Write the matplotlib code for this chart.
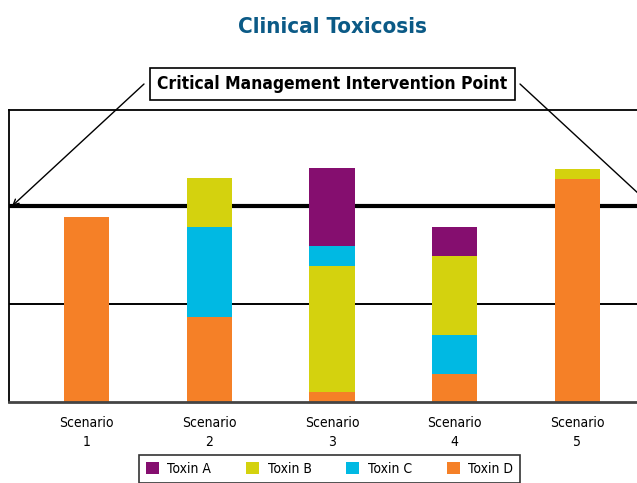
import matplotlib.pyplot as plt
from matplotlib.patches import Patch

# the reference uses a narrow face; ask for condensed DejaVu
plt.rcParams['font.family'] = ['DejaVu Sans']
plt.rcParams['font.stretch'] = 'condensed'

# data
scenarios = ['Scenario\n1', 'Scenario\n2', 'Scenario\n3', 'Scenario\n4', 'Scenario\n5']
toxins = ['Toxin A', 'Toxin B', 'Toxin C', 'Toxin D']
toxin_a = [0, 0, 0.80, 0.30, 0]
toxin_b = [0, 0.50, 1.29, 0.81, 0.10]
toxin_c = [0, 0.92, 0.20, 0.39, 0]
toxin_d = [1.89, 0.87, 0.10, 0.29, 2.28]
# bottom-to-top stacking order differs between scenarios
stack_order = [
    ['Toxin D', 'Toxin C', 'Toxin B', 'Toxin A'],
    ['Toxin D', 'Toxin C', 'Toxin B', 'Toxin A'],
    ['Toxin D', 'Toxin B', 'Toxin C', 'Toxin A'],
    ['Toxin D', 'Toxin C', 'Toxin B', 'Toxin A'],
    ['Toxin D', 'Toxin C', 'Toxin B', 'Toxin A'],
]
intervention_level = 2

values = {'Toxin A': toxin_a, 'Toxin B': toxin_b, 'Toxin C': toxin_c, 'Toxin D': toxin_d}
colors = {'Toxin A': '#850E6F', 'Toxin B': '#D4D20E', 'Toxin C': '#00B9E3', 'Toxin D': '#F58027'}

W, H = 637, 483
fig = plt.figure(figsize=(W / 100, H / 100), dpi=100)
ax = fig.add_axes([9 / W, (H - 402) / H, (655 - 9) / W, (402 - 110) / H])

# reference lines behind the bars
ax.axhline(1, color='black', lw=1.4, zorder=1)
ax.axhline(intervention_level, color='black', lw=3, zorder=1)

for i in range(len(scenarios)):
    bottom = 0
    for name in stack_order[i]:
        v = values[name][i]
        if v > 0:
            ax.bar(i, v, bottom=bottom, width=0.368, color=colors[name], zorder=2)
        bottom += v

ax.set_xlim(-0.634, 4.634)
ax.set_ylim(0, 2.98)
ax.set_yticks([])
ax.set_xticks(range(len(scenarios)))
ax.set_xticklabels(scenarios, fontsize=10, linespacing=1.45)
ax.tick_params(axis='x', length=0, pad=10)
ax.spines['right'].set_visible(False)
ax.spines['left'].set_linewidth(1.3)
ax.spines['top'].set_linewidth(1.3)
ax.spines['bottom'].set_linewidth(2)
ax.spines['bottom'].set_color('#444444')

fig.text(332 / W, 1 - 27 / H, 'Clinical Toxicosis', ha='center', va='center',
         fontsize=16, fontweight='bold', color='#0B5A86')

fig.text(332.5 / W, 1 - 84 / H, 'Critical Management Intervention Point', ha='center', va='center',
         fontsize=12.5, fontweight='bold',
         bbox=dict(boxstyle='square,pad=0.42', facecolor='white', edgecolor='black', lw=1.2))

# arrows from the label to the intervention line at both edges
ax.annotate('', xy=(-0.609, intervention_level), xycoords='data',
            xytext=(144, H - 84), textcoords='figure pixels',
            arrowprops=dict(arrowstyle='->', color='black', lw=1, shrinkA=0, shrinkB=0))
ax.annotate('', xy=(4.609, intervention_level), xycoords='data',
            xytext=(520, H - 84), textcoords='figure pixels',
            arrowprops=dict(arrowstyle='->', color='black', lw=1, shrinkA=0, shrinkB=0),
            annotation_clip=False)

handles = [Patch(facecolor=colors[t], label=t) for t in toxins]
leg = fig.legend(handles=handles, loc='upper center', bbox_to_anchor=(329.5 / W, 28 / H),
                 ncol=4, fontsize=10, frameon=True, fancybox=False, edgecolor='black',
                 handlelength=0.95, handleheight=0.95, handletextpad=0.6,
                 columnspacing=2.5, borderaxespad=0, borderpad=0.5)
leg.get_frame().set_linewidth(1.2)

fig.savefig('out.png', dpi=100)
